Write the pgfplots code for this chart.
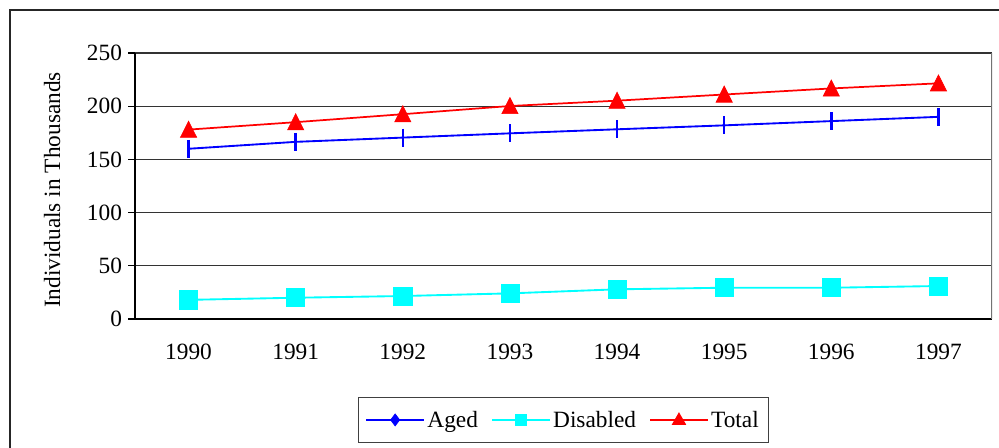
\documentclass[border=0pt]{standalone}
\usepackage{pgfplots}
\pgfplotsset{compat=1.18}
\usepackage{fontspec}
\setmainfont{Liberation Serif}
\definecolor{xlblue}{RGB}{0,0,255}
\definecolor{xlcyan}{RGB}{0,255,255}
\definecolor{xlred}{RGB}{255,0,0}

\begin{document}
\begin{tikzpicture}
\useasboundingbox (0pt,0pt) rectangle (749.25pt,-335.25pt);
% outer chart frame (right and bottom edges are off the picture)
\draw[line width=1.4pt, black!85] (7.5pt,-340pt) -- (7.5pt,-7.6pt) -- (755pt,-7.6pt);
\begin{axis}[
    at={(101.25pt,-239.25pt)},
    anchor=south west,
    scale only axis,
    width=642.75pt,
    height=199.5pt,
    font=\fontsize{17.5pt}{20pt}\selectfont,
    /pgf/number format/assume math mode=true,
    xmin=-0.5, xmax=7.5,
    ymin=0, ymax=250,
    ytick={0,50,...,250},
    xtick={0,...,7},
    xticklabels={1990,1991,1992,1993,1994,1995,1996,1997},
    minor xtick={-0.5,0.5,...,7.5},
    axis x line*=bottom,
    axis y line*=left,
    axis line style={black, line width=0.8pt},
    tick align=outside,
    major tick length=5.25pt,
    minor tick length=4.5pt,
    xtick style={draw=none},
    ytick style={black, line width=0.8pt},
    minor x tick style={black!70, line width=0.8pt},
    ymajorgrids,
    grid style={black!80, line width=0.8pt},
    xticklabel style={yshift=-10pt},
    yticklabel style={xshift=-1pt},
    ylabel={Individuals in Thousands},
    ylabel style={yshift=13pt, xshift=-3pt},
    legend columns=-1,
    legend style={at={(0.5,-0.293)}, anchor=north, draw=black!75,
        line width=0.8pt, inner xsep=5pt, inner ysep=8pt,
        nodes={inner sep=2pt},
        /tikz/every even column/.append style={column sep=8pt},
        font=\fontsize{17.5pt}{20pt}\selectfont},
    legend image code/.code={
        \draw[mark repeat=2,mark phase=2,#1]
            plot coordinates {(0pt,0pt) (21.5pt,0pt) (43pt,0pt)};},
]
\addplot[xlblue, line width=1.4pt, mark=|, mark size=6.75pt,
    mark options={line width=1.8pt},
    legend image post style={mark=diamond*, mark size=4.5pt, mark options={line width=0.5pt}}]
    coordinates {(0,160) (1,166.5) (2,170.5) (3,174.5) (4,178.3) (5,182) (6,186) (7,190)};
\addlegendentry{Aged}
\addplot[xlcyan, line width=1.4pt, mark=square*, mark size=6.8pt,
    mark options={line width=0.5pt},
    legend image post style={mark size=4.3pt}]
    coordinates {(0,18) (1,20) (2,21.6) (3,24.1) (4,27.9) (5,29.4) (6,29.4) (7,31)};
\addlegendentry{Disabled}
\addplot[xlred, line width=1.3pt, mark=triangle*, mark size=7pt,
    mark options={line width=0.5pt, yscale=1.15, yshift=-1.5pt},
    legend image post style={mark size=5pt, mark options={yshift=-0.5pt}}]
    coordinates {(0,178) (1,185) (2,192.5) (3,200.2) (4,205.2) (5,211) (6,216.7) (7,221.5)};
\addlegendentry{Total}
\draw[black!55, line width=0.8pt] (rel axis cs:1,0) -- (rel axis cs:1,1);
\end{axis}
\end{tikzpicture}
\end{document}
